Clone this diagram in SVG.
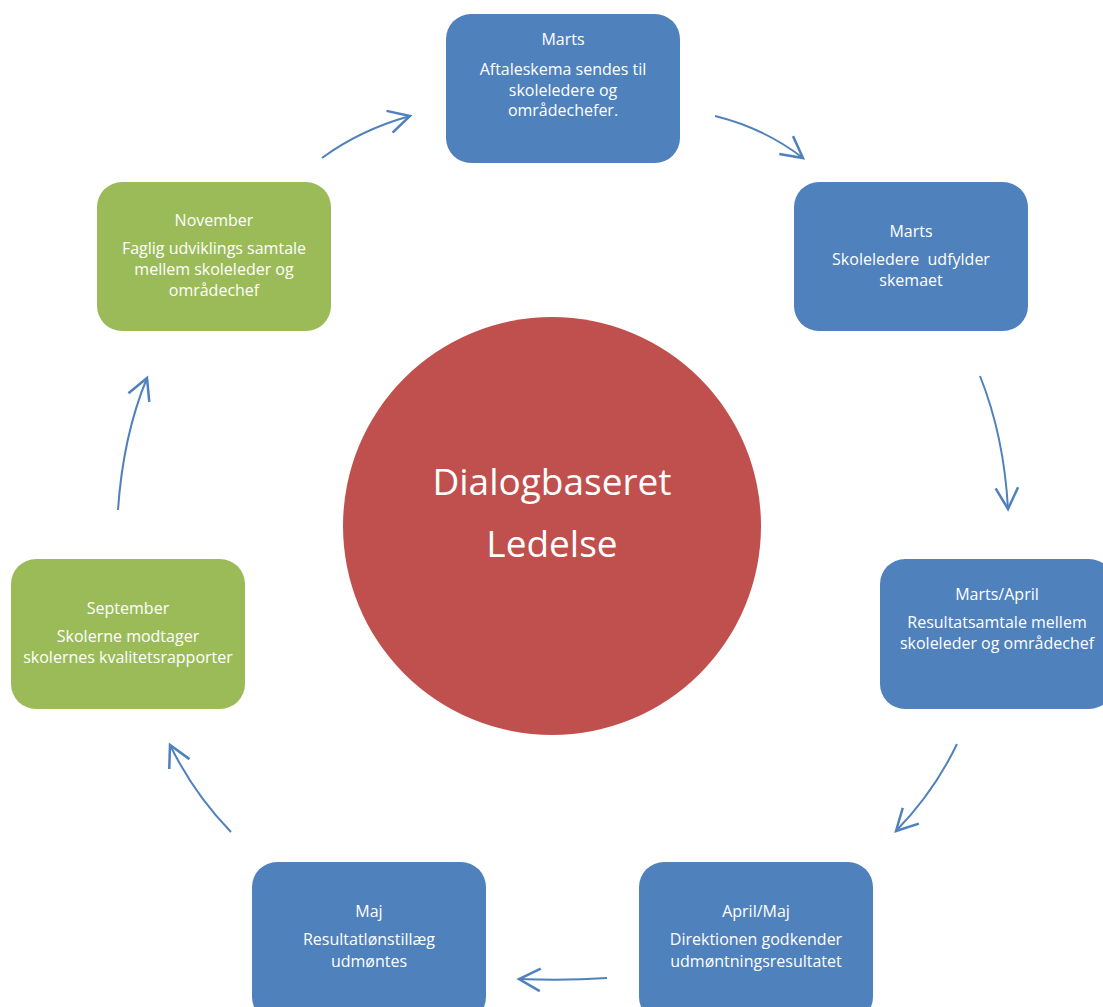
<svg xmlns="http://www.w3.org/2000/svg" width="1103" height="1007" viewBox="0 0 1103 1007">
<defs>
<style>
.blue{fill:#4F81BD;}
.green{fill:#9BBB59;}
.t{font-family:"Open Sans","Liberation Sans",sans-serif;font-size:16px;fill:#FFFFFF;text-anchor:middle;}
.big{font-family:"Open Sans","Liberation Sans",sans-serif;font-size:37px;fill:#FFFFFF;text-anchor:middle;}
.c{fill:none;stroke:#4F81BD;stroke-width:2;marker-end:url(#ah);}
</style>
<marker id="ah" markerUnits="userSpaceOnUse" markerWidth="30" markerHeight="30" viewBox="-20 -12 24 24" refX="0" refY="0" orient="auto">
<path d="M -17 -9 L 0 0 L -17 9" fill="none" stroke="#4F81BD" stroke-width="2"/>
</marker>
</defs>
<rect width="1103" height="1007" fill="#FFFFFF"/>
<g id="center">
<circle cx="552" cy="526" r="209" fill="#C0504D"/>
<text class="big" x="552" y="495">Dialogbaseret</text>
<text class="big" x="552" y="557">Ledelse</text>
</g>
<g id="n1">
<rect class="blue" x="446" y="14" width="234" height="149" rx="25"/>
<text class="t" x="563" y="45">Marts</text>
<text class="t" x="563" y="75">Aftaleskema sendes til</text>
<text class="t" x="563" y="96">skoleledere og</text>
<text class="t" x="563" y="116">områdechefer.</text>
</g>
<g id="n2">
<rect class="blue" x="794" y="182" width="234" height="149" rx="25"/>
<text class="t" x="911" y="237">Marts</text>
<text class="t" x="911" y="265" xml:space="preserve">Skoleledere  udfylder</text>
<text class="t" x="911" y="286">skemaet</text>
</g>
<g id="n3">
<rect class="blue" x="880" y="559" width="234" height="150" rx="25"/>
<text class="t" x="997" y="600">Marts/April</text>
<text class="t" x="997" y="628">Resultatsamtale mellem</text>
<text class="t" x="997" y="649">skoleleder og områdechef</text>
</g>
<g id="n4">
<rect class="blue" x="639" y="862" width="234" height="160" rx="25"/>
<text class="t" x="756" y="917">April/Maj</text>
<text class="t" x="756" y="945">Direktionen godkender</text>
<text class="t" x="756" y="967">udmøntningsresultatet</text>
</g>
<g id="n5">
<rect class="blue" x="252" y="862" width="234" height="160" rx="25"/>
<text class="t" x="369" y="917">Maj</text>
<text class="t" x="369" y="945">Resultatlønstillæg</text>
<text class="t" x="369" y="967">udmøntes</text>
</g>
<g id="n6">
<rect class="green" x="11" y="559" width="234" height="150" rx="25"/>
<text class="t" x="128" y="614">September</text>
<text class="t" x="128" y="642">Skolerne modtager</text>
<text class="t" x="128" y="663">skolernes kvalitetsrapporter</text>
</g>
<g id="n7">
<rect class="green" x="97" y="182" width="234" height="149" rx="25"/>
<text class="t" x="214" y="226">November</text>
<text class="t" x="214" y="254">Faglig udviklings samtale</text>
<text class="t" x="214" y="275">mellem skoleleder og</text>
<text class="t" x="214" y="296">områdechef</text>
</g>
<g id="connectors">
<path class="c" d="M 322 158 Q 360 130 410 116"/>
<path class="c" d="M 715 116 Q 764 128 803 158"/>
<path class="c" d="M 980 376 Q 1004 436 1008 509"/>
<path class="c" d="M 957 744 Q 934 792 896 831"/>
<path class="c" d="M 607 978 Q 565 981 519 979"/>
<path class="c" d="M 231 832 Q 194 794 170 745"/>
<path class="c" d="M 118 510 Q 123 436 147 378"/>
</g>
</svg>
